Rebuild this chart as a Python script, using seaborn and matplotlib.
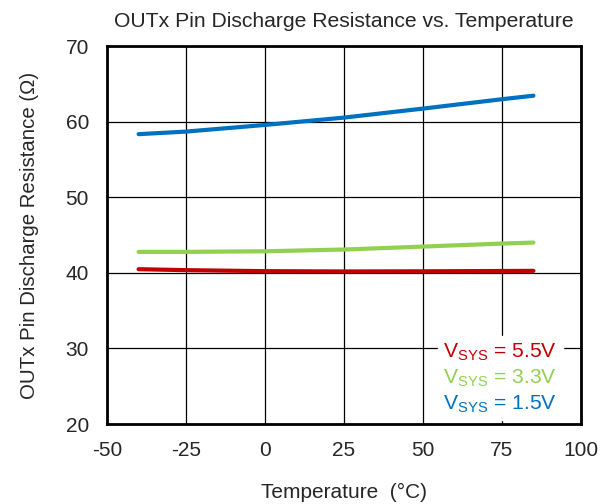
import numpy as np
import pandas as pd
import seaborn as sns
import matplotlib
matplotlib.use("Agg")
import matplotlib.pyplot as plt

# temperature points
temp = [-40, -25, 0, 25, 50, 75, 85]
r_55 = [40.48, 40.35, 40.22, 40.18, 40.20, 40.24, 40.26]
r_33 = [42.77, 42.77, 42.85, 43.08, 43.47, 43.87, 44.00]
r_15 = [58.34, 58.68, 59.56, 60.53, 61.72, 62.96, 63.43]

labels = ["5.5V", "3.3V", "1.5V"]
colors = ["#C00000", "#92D050", "#0070C0"]

df = pd.DataFrame({
    "Temperature": temp * 3,
    "R": r_55 + r_33 + r_15,
    "Vsys": [labels[0]] * len(temp) + [labels[1]] * len(temp) + [labels[2]] * len(temp),
})

sns.set_style("white")
plt.rcParams['font.family'] = ['Liberation Sans', 'DejaVu Sans']
plt.rcParams['mathtext.fontset'] = 'custom'
plt.rcParams['mathtext.rm'] = 'Liberation Sans'
plt.rcParams['axes.unicode_minus'] = False

fig = plt.figure(figsize=(6.09, 5.04), dpi=100)
ax = fig.add_axes([0.1757, 0.1587, 0.778, 0.75])

sns.lineplot(data=df, x="Temperature", y="R", hue="Vsys", palette=colors,
             hue_order=labels, linewidth=3, legend=False, ax=ax)

ax.set_xlim(-50, 100)
ax.set_ylim(20, 70)
ax.set_xticks(np.arange(-50, 101, 25))
ax.set_yticks(np.arange(20, 71, 10))
ax.grid(True, color="black", linewidth=0.9)
ax.set_axisbelow(True)
for s in ax.spines.values():
    s.set_color("black")
    s.set_linewidth(2)
ax.tick_params(length=0, labelsize=15)
ax.tick_params(axis="x", pad=12)
ax.tick_params(axis="y", pad=13)

ax.set_xlabel("Temperature  (°C)", fontsize=15, labelpad=17)
ax.set_ylabel("OUTx Pin Discharge Resistance (Ω)", fontsize=14.7, labelpad=19)
ax.set_title("OUTx Pin Discharge Resistance vs. Temperature", fontsize=15.2, pad=14)

# legend as coloured text
ypos = [0.19, 0.122, 0.053]
for lab, c, yy in zip(labels, colors, ypos):
    ax.text(0.95, yy, r"$\mathregular{V_{SYS}}$ = " + lab,
            transform=ax.transAxes, ha="right", va="center", color=c,
            fontsize=15.2, backgroundcolor="white")

fig.savefig("out.png", dpi=100)
